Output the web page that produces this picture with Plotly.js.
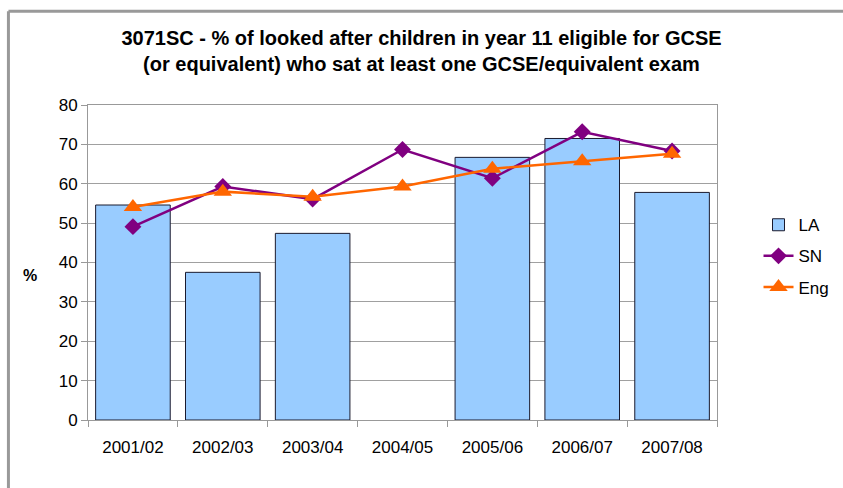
<!DOCTYPE html>
<html>
<head>
<meta charset="utf-8">
<script src="https://cdn.plot.ly/plotly-3.0.1.min.js"></script>
<style>
  html, body { margin: 0; padding: 0; background: #ffffff; }
  #chart { width: 843px; height: 488px; }
</style>
</head>
<body>
<div id="chart"></div>
<script>
const categories = ["2001/02", "2002/03", "2003/04", "2004/05", "2005/06", "2006/07", "2007/08"];
const laValues  = [54.6, 37.5, 47.4, null, 66.7, 71.5, 57.8];
const snValues  = [49.1, 59.3, 56.1, 68.7, 61.4, 73.2, 68.3];
const engValues = [54.1, 58.0, 56.7, 59.3, 63.8, 65.7, 67.6];
const yTicks = [0, 10, 20, 30, 40, 50, 60, 70, 80];

const FONT = "Liberation Sans, Arial, sans-serif";

const traces = [
  {
    type: "bar", name: "LA", x: categories, y: laValues,
    legendgroup: "a",
    marker: { color: "#99CCFF", line: { color: "#1a1a2e", width: 1 } }
  },
  {
    type: "scatter", mode: "lines+markers", name: "SN", x: categories, y: snValues,
    legendgroup: "b",
    line: { color: "#800080", width: 2.5 },
    marker: { symbol: "diamond", size: 13, color: "#800080" }
  },
  {
    type: "scatter", mode: "lines+markers", name: "Eng", x: categories, y: engValues,
    legendgroup: "c",
    line: { color: "#FF6600", width: 2.5 },
    marker: { symbol: "triangle-up", size: 16, color: "#FF6600" }
  }
];

const layout = {
  width: 843, height: 488,
  margin: { l: 88, r: 126, t: 105, b: 68, autoexpand: false },
  paper_bgcolor: "#ffffff", plot_bgcolor: "#ffffff",
  font: { family: FONT, size: 17, color: "#000000" },
  title: {
    text: "<b>3071SC - % of looked after children in year 11 eligible for GCSE<br>(or equivalent) who sat at least one GCSE/equivalent exam</b>",
    font: { family: FONT, size: 20, color: "#000000" },
    x: 0.5, xanchor: "center", xref: "container",
    y: 1 - 45 / 488, yanchor: "top"
  },
  bargap: 0.17,
  showlegend: true,
  legend: {
    x: 1.066, xanchor: "left", y: 0.52, yanchor: "middle",
    font: { family: FONT, size: 17 },
    traceorder: "grouped", tracegroupgap: 6,
    bgcolor: "rgba(0,0,0,0)"
  },
  xaxis: {
    type: "category",
    showgrid: false,
    showline: true, linecolor: "#999999", linewidth: 1, mirror: true,
    ticks: "outside", tickson: "boundaries", ticklen: 6, tickcolor: "#999999",
    tickfont: { family: FONT, size: 17 },
    ticklabelstandoff: 12,
    zeroline: false
  },
  yaxis: {
    range: [0, 80],
    tickvals: yTicks, ticktext: yTicks.map(String),
    showgrid: true, gridcolor: "#a0a0a0", gridwidth: 1,
    showline: true, linecolor: "#999999", linewidth: 1, mirror: true,
    ticks: "outside", ticklen: 6, tickcolor: "#999999",
    tickfont: { family: FONT, size: 17 },
    zeroline: false
  },
  annotations: [
    {
      text: "<b>%</b>", xref: "paper", yref: "paper",
      x: -0.092, y: 0.46, xanchor: "center", yanchor: "middle",
      showarrow: false, font: { family: FONT, size: 16, color: "#000000" }
    }
  ],
  shapes: [
    {
      type: "line", xref: "paper", yref: "paper",
      x0: -0.1265, x1: -0.1265, y0: -1, y1: 1.298,
      line: { color: "#999999", width: 3 }
    },
    {
      type: "line", xref: "paper", yref: "paper",
      x0: -0.1265, x1: 2, y0: 1.298, y1: 1.298,
      line: { color: "#999999", width: 3 }
    }
  ]
};

Plotly.newPlot("chart", traces, layout, { displayModeBar: false, staticPlot: true });
</script>
</body>
</html>
